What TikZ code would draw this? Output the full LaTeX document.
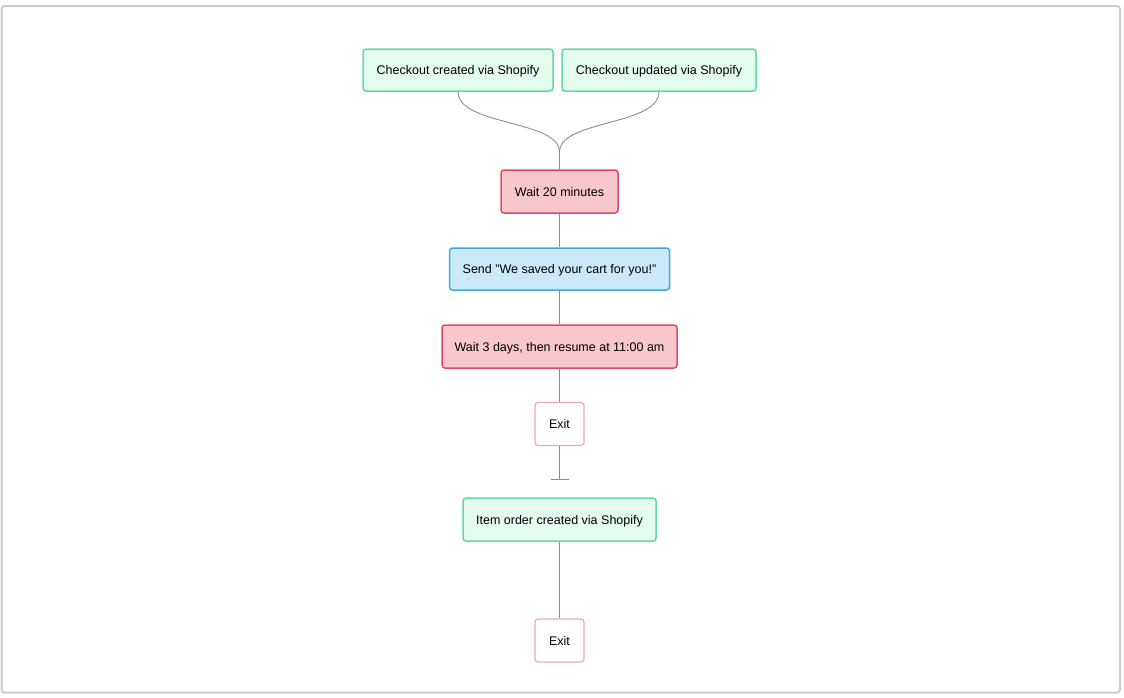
\documentclass[tikz,border=0pt]{standalone}
\usepackage{fontspec}
\setmainfont{Liberation Sans}
\usetikzlibrary{arrows.meta}
\definecolor{trigfill}{HTML}{E4FBF0}
\definecolor{trigdraw}{HTML}{62DA9C}
\definecolor{waitfill}{HTML}{F8C6CD}
\definecolor{waitdraw}{HTML}{E0486A}
\definecolor{sendfill}{HTML}{CBEAF9}
\definecolor{senddraw}{HTML}{3DA9DC}
\definecolor{exitdraw}{HTML}{F0A8B8}
\definecolor{linkgray}{HTML}{8C8C8C}
\definecolor{framegray}{HTML}{CDCDCD}

\begin{document}
\begin{tikzpicture}[x=1pt,y=-1pt,
    every node/.style={rectangle,rounded corners=3pt,line width=1.5pt,
        font=\fontsize{12.5}{14}\selectfont,inner sep=0pt,align=center,
        text height=9pt,text depth=0pt},
    trigger/.style={draw=trigdraw,fill=trigfill,minimum height=42pt},
    waitbox/.style={draw=waitdraw,fill=waitfill,minimum height=43pt},
    sendbox/.style={draw=senddraw,fill=sendfill,minimum height=42pt},
    exitbox/.style={draw=exitdraw,fill=white,line width=1.2pt,minimum width=49pt,minimum height=43pt},
    link/.style={draw=linkgray,line width=0.9pt}]
    \useasboundingbox (0,0) rectangle (1124,697);
    \draw[framegray,line width=2pt,rounded corners=3pt] (1.5,6) rectangle (1120,692.5);
    \coordinate (C1) at (458,70);
    \coordinate (C2) at (659,70);
    \coordinate (W1) at (559.5,191.5);
    \coordinate (S1) at (559.5,269);
    \coordinate (W2) at (559.5,346.5);
    \coordinate (E1) at (559.5,424);
    \coordinate (T1) at (559.5,519.5);
    \coordinate (E2) at (559.5,640.5);
    \coordinate (join) at (559.5,150);
    \coordinate (stop) at (559.5,480);
    \node[trigger,minimum width=190pt] (created) at (C1) {Checkout created via Shopify};
    \node[trigger,minimum width=194pt] (updated) at (C2) {Checkout updated via Shopify};
    \node[waitbox,minimum width=117pt] (wait20) at (W1) {Wait 20 minutes};
    \node[sendbox,minimum width=220pt] (send) at (S1) {Send "We saved your cart for you!"};
    \node[waitbox,minimum width=235pt] (wait3) at (W2) {Wait 3 days, then resume at 11:00 am};
    \node[exitbox] (exit1) at (E1) {Exit};
    \node[trigger,minimum width=193pt,minimum height=43pt] (order) at (T1) {Item order created via Shopify};
    \node[exitbox] (exit2) at (E2) {Exit};
    \draw[link] (created.south) .. controls (458,125) and (555,120) .. (join);
    \draw[link] (updated.south) .. controls (659,125) and (564,120) .. (join);
    \draw[link] (join) -- (wait20.north);
    \draw[link] (wait20) -- (send);
    \draw[link] (send) -- (wait3);
    \draw[link] (wait3) -- (exit1);
    \draw[link,-{Bar[width=18pt,line width=0.9pt]}] (exit1) -- (stop);
    \draw[link] (order) -- (exit2);
\end{tikzpicture}
\end{document}
